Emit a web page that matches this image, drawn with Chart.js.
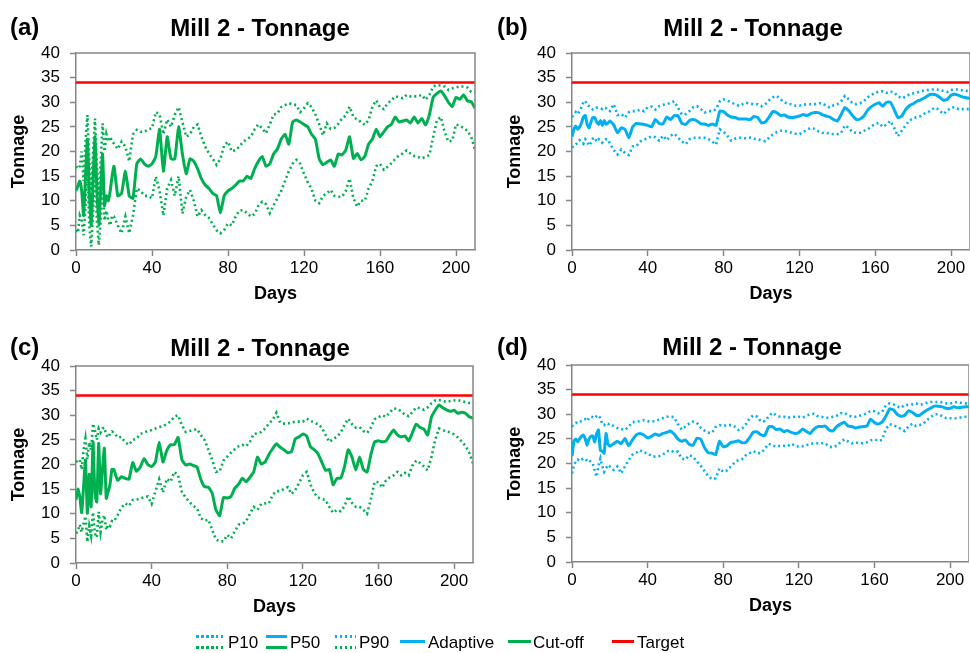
<!DOCTYPE html>
<html><head><meta charset="utf-8">
<script src="https://cdn.jsdelivr.net/npm/chart.js@4.4.1/dist/chart.umd.min.js"></script>
<style>
html,body{margin:0;padding:0;background:#fff;}
body{width:970px;height:653px;position:relative;overflow:hidden;font-family:"Liberation Sans",Arial,sans-serif;color:#000;}
canvas{position:absolute;}
.lbl{position:absolute;font-weight:bold;font-size:24px;line-height:1;transform:translate(0,-50%);white-space:nowrap;}
.ttl{position:absolute;font-weight:bold;font-size:24px;line-height:1;transform:translate(-50%,-50%);white-space:nowrap;}
.lt{position:absolute;font-size:17px;line-height:1;transform:translate(0,-50%);white-space:nowrap;}
.sw{position:absolute;height:3px;}
</style></head>
<body>
<canvas id="ca" width="485" height="320" style="left:0;top:0"></canvas>
<canvas id="cb" width="474" height="320" style="left:496px;top:0"></canvas>
<canvas id="cc" width="485" height="320" style="left:0;top:313px"></canvas>
<canvas id="cd" width="473" height="320" style="left:496px;top:312px"></canvas>

<div class="lbl" style="left:10px;top:27px">(a)</div>
<div class="lbl" style="left:497px;top:27px">(b)</div>
<div class="lbl" style="left:10px;top:347px">(c)</div>
<div class="lbl" style="left:497px;top:347px">(d)</div>
<div class="ttl" style="left:260px;top:28px">Mill 2 - Tonnage</div>
<div class="ttl" style="left:753px;top:28px">Mill 2 - Tonnage</div>
<div class="ttl" style="left:260px;top:348px">Mill 2 - Tonnage</div>
<div class="ttl" style="left:752px;top:347px">Mill 2 - Tonnage</div>

<div class="sw" style="left:196px;top:634.5px;width:29px;background:repeating-linear-gradient(90deg,#00B0F0 0 2.5px,transparent 2.5px 5px)"></div>
<div class="sw" style="left:196px;top:645.5px;width:29px;background:repeating-linear-gradient(90deg,#00B050 0 2.5px,transparent 2.5px 5px)"></div>
<div class="lt" style="left:228px;top:641.5px">P10</div>
<div class="sw" style="left:266px;top:634.5px;width:21px;background:#00B0F0"></div>
<div class="sw" style="left:266px;top:645.5px;width:21px;background:#00B050"></div>
<div class="lt" style="left:290px;top:641.5px">P50</div>
<div class="sw" style="left:335px;top:634.5px;width:21px;background:repeating-linear-gradient(90deg,#00B0F0 0 2.5px,transparent 2.5px 5px)"></div>
<div class="sw" style="left:335px;top:645.5px;width:21px;background:repeating-linear-gradient(90deg,#00B050 0 2.5px,transparent 2.5px 5px)"></div>
<div class="lt" style="left:359px;top:641.5px">P90</div>
<div class="sw" style="left:400px;top:639.5px;width:25px;background:#00B0F0"></div>
<div class="lt" style="left:428px;top:641.5px">Adaptive</div>
<div class="sw" style="left:508px;top:639.5px;width:23px;background:#00B050"></div>
<div class="lt" style="left:533px;top:641.5px">Cut-off</div>
<div class="sw" style="left:612px;top:639.5px;width:22px;background:#FF0000"></div>
<div class="lt" style="left:637px;top:641.5px">Target</div>

<script>
// ---- data ----
const days = [0,1,2,3,4,5,6,7,8,9,10,11,12,13,14,15,16,17,18,19,20,
 22,24,26,28,30,32,34,36,38,40,42,44,46,48,50,52,54,56,58,60,62,64,66,68,70,72,74,76,78,80,
 82,84,86,88,90,92,94,96,98,100,102,104,106,108,110,112,114,116,118,120,122,124,126,128,130,
 132,134,136,138,140,142,144,146,148,150,152,154,156,158,160,162,164,166,168,170,172,174,176,
 178,180,182,184,186,188,190,192,194,196,198,200,202,204,206,208,210];
const targetDays = [0, 210];
const targetValues = [34, 34];
const xTicks = [0, 40, 80, 120, 160, 200];
const yTicks = [0, 5, 10, 15, 20, 25, 30, 35, 40];

// (a) Cut-off
const aP50 = [12,13,14,12,7,15,22.5,12,5,14,23,12,5,12,19.5,9,11,10,12,15,17,
 11,11.5,16,11,10.5,17.5,18.5,17.5,17,17.5,19,24.5,16,23,18.5,18.5,25,19.5,15.5,18.5,18,16.5,14.5,13.2,12.5,11.5,11,7.5,11,12,12.5,13.2,14,14,15,14.5,16.5,18,19,17,17.5,19.5,
 20.5,22.5,23.5,21.5,26,26.4,26,25.5,25,23.5,22.5,18.5,17.3,17.8,18.3,17,19.5,19.3,20.3,23,18.6,19.6,18.3,19,21.5,22.5,24.5,23,24,25,25.5,27,26,26.2,26.4,25.8,27,25.8,26.7,25.4,27.5,31,31.8,32.3,31.3,30,29.1,31,30.6,31.5,30.3,30.1,28.8];
const aP90 = [17,16.5,17,20,14,22,27.4,18,12,20,26.7,17,11,18,25.7,20,23.5,22,23,22,21.6,
 20.5,22,21,18,23.5,24.4,24,24,24.5,24.7,28,27.5,23.5,26.5,25,27.5,29,26,23,23.5,25,25.5,23,21,19.6,18.5,17.3,18.5,21.3,22,20,20.3,21,22,22.5,23,24.5,25.5,24.7,23.7,25.5,27.5,
 27.7,29,29.4,29.8,29.6,29.4,28,28.8,29.8,29,27.5,25.5,23.3,25.7,24.6,24.8,25.6,26.7,27.3,29.1,27,26.5,26,25.4,26.4,29.1,30.4,29,28.6,29.8,30.4,31.2,31,30.8,31.5,31.2,31.2,31.2,31.5,30.5,31.5,33.2,33.5,33.4,33.2,32.5,32.8,33,33.2,33.2,33,32.1,32];
const aP10 = [4,3.5,7,6,3,9,16,5,0.7,8,17,6,1,6,15,6,8,6,5,7,6.8,
 5,3.4,6.8,3.4,7,12.5,12,11,11,10.5,14.9,12,7,12.5,14.2,11,15,7.4,10.8,12.2,10,6.8,8.1,7.1,6.5,5.2,4,3.4,4.1,5.4,5,6.8,8,8.1,7.5,6.8,7.3,9,9.8,9.3,7.5,9.1,
 10.5,12,14,16,17.5,18.3,17.5,15.5,13.7,12.4,10,9.5,11,11.5,12.2,11,10.8,10.8,12,14.5,10.5,8.8,10,10,12.5,14,17,17.5,16.3,16.9,17.6,18.5,19.2,19.6,20.2,19.6,19.1,18.9,18.6,18.9,19.3,23,26.4,27,24,22,22.2,25.5,25.2,24.8,24.2,23,20.3];

// (b) Adaptive
const bP50 = [23,24.5,25.2,24.5,25,25.8,27,27.3,25.5,24.8,26,26.9,26.9,26,25.5,26.3,25.3,26.3,25.5,25.8,26.2,
 25.4,23.8,24.8,24.5,22.8,25,25.7,25.6,25.5,25.3,25,26.5,25.7,25.6,27,26.5,27.3,27.2,25.7,25.5,26.3,26.5,26.2,25.6,25.6,25.3,25.6,25.3,28.2,28.1,27.4,27,26.9,26.6,26.6,26.6,26.5,27.1,26.9,25.8,26,27,
 28.1,27.9,27.3,27.4,27,26.9,27,27.2,27.5,27.3,27.7,27.9,27.9,27.5,27.2,27,26.5,26.2,27.5,28.9,28.3,27.3,26.5,26.6,27.2,28.4,29.1,29.6,29.9,29.2,30,30,28.5,26.9,27.2,28.5,29.3,29.7,30.2,30.5,30.9,31.4,31.6,31.5,31,30.4,30.6,31.4,31.6,31.4,31.1,30.9,30.8];
const bP90 = [27,27.5,28,27.6,28.2,29,30,30.3,29.5,29.2,28.8,28.5,28.6,28.9,28.9,28.8,28.6,28.9,28.8,28.4,28.2,
 29.6,27.4,27.6,26.9,28,28.2,28.2,28.5,28.2,29,29.1,28.5,29.2,29.5,29.6,29.9,30.2,28.8,27.5,27.6,28.2,29,29.2,28.6,27.9,28.2,28.2,28.6,30.2,30.6,30.3,30,29.6,29.3,29.6,29.9,29.7,29.6,29.6,29.2,29.6,30.4,
 31,31.3,30.6,30,29.7,29.6,29.3,29.3,29.5,29.6,29.6,29.6,29.8,29.8,29.3,28.9,29.4,29.6,30.2,31.3,30.6,29.8,29.6,29.8,30.2,31,31.5,31.9,32.2,32.2,31.9,32.2,32,31.2,30.8,31.1,31.6,31.8,32,32.2,32.4,32.5,32.6,32.6,32.5,32.3,32.1,32.5,32.6,32.6,32.4,32.3,32.3];
const bP10 = [20.8,21.2,21.4,21.8,22.3,22,21.6,22.5,22,21.2,21.8,22.6,22.8,22,22.5,22.3,21.8,22.3,22.5,22.4,21.6,
 20.3,19.4,20.4,19.7,19.3,21,21.1,22,22.4,22.7,23.1,22.9,22.2,23.2,22.3,23.2,23.6,22.8,22,21.5,22.5,22.8,22.8,22.8,22.8,22.5,22,21.4,24.5,24,23.2,22.2,22.6,22.8,22.8,22.6,22.8,22.6,22.5,22.2,22.1,22.8,
 23.5,23.9,24.2,24.2,24,23.8,23.6,23.5,24,24.4,24.8,24.6,24.1,23.8,23.8,23.6,23.5,23.5,23.8,25.3,24.8,23.9,23.8,23.8,24.2,24.5,25.1,25.6,25.8,25,25.5,26.2,24.8,23.1,24.2,25.3,26.3,26.7,27,27.2,27.7,28,28.6,28.9,28.3,27.6,28.3,28.9,29,28.6,28.6,28.6,28.6];

// (c) Cut-off
const cP50 = [12.8,15,13.5,10.2,15.5,20.9,10.1,18,11.4,24.6,14,12.4,24.3,14.1,19,23.3,13.1,14.5,16,19,19,
 16.8,17.5,17.2,17,20.4,18.6,19.5,21.2,20,19.6,20.5,24.5,20.5,22.8,24,24,25.5,21,19.9,20.1,19.8,19.5,17,15.5,15.4,14.2,10.8,9.6,13.3,13.2,13.5,15.2,16,17.2,16.5,17.4,18.5,21.5,20.1,20.5,22,23.2,
 24.2,23.5,23,22.4,22.6,25.2,25.6,26.2,25.8,23.6,23,22.2,20.5,18.8,19,15.9,17.2,17.2,19.5,23,21.5,18.9,21.5,19,18.5,22,24.6,24.8,24.6,24.8,26,27,26,25.6,25.8,24.8,26.5,28.2,27.5,27.2,26,29.6,31,32.1,31.5,31.1,30.8,31,30.4,30.6,30.4,29.7,29.4];
const cP90 = [20.5,20.8,21,19,23,25.3,21,24.5,23,28.3,27,25,27.3,26.5,27.3,27.5,26,25.5,26.2,26.7,26.5,
 25.5,25.6,24.5,24,25,25.2,26.2,26.5,26.8,27,27.3,27.6,27.8,28.2,28.7,29.7,30,28,26.6,26.8,27,27.2,26,25,23,21,18.5,18.6,20.8,21.6,22.4,23.1,23.7,24,23.7,24.6,26.2,26.3,26.6,27.3,28.3,29,
 30.5,28.5,28.3,28.3,28.5,28.7,28.7,28.7,29.3,28.9,28.5,28.2,27.5,26,24.6,25.2,25.6,26.5,28,29.3,28.2,27.5,27.6,26.8,26.4,27.5,29.2,29.6,30,29.7,30.6,31.4,31.3,30.8,30.1,29.8,30.7,31.6,31.4,31.1,31.6,32.4,33,33.1,32.9,32.7,32.9,33,33.1,32.9,32.7,32.5,32.4];
const cP10 = [6,6.5,7.8,6.3,8,9.5,4.3,7.5,5.5,10.3,6,5.2,10.4,6.3,8.7,9.7,6.7,7.8,7.5,8.5,8.4,
 9.7,11.2,12.1,11.6,12.8,12.9,13,13.4,13.5,12,14.5,17,14.3,17.1,16.5,18.5,17.8,14.4,13.3,12.4,11.6,11.1,9.1,8.6,8.8,6.8,4.8,4.4,4.4,5.7,5,6.4,7.8,7.9,8.5,10,11.4,10.8,12,12.1,12.1,13.8,
 14.6,14.6,15,15.4,14,14.8,16.3,17.8,18.5,16,14.2,13.3,13,12.8,11.4,10.2,10.8,10.5,11.5,13.5,12.2,11.4,11.4,10.8,10,13,16.5,16.4,15.3,16.8,17.4,17.8,18.5,17.8,18.3,17.8,19.8,20.8,20.3,19.6,18.8,21.5,25,27.3,27,26.7,26.5,26.1,25.5,24.7,23.8,22.4,20.2];

// (d) Adaptive
const dP50 = [21.5,24.5,25,24.4,25,25.5,25.8,25,23.7,25,25.5,25.6,24.4,26,26.8,22.7,22.5,22.1,26.1,24,23.5,
 24,24.5,24,25.1,23.6,24.8,25.8,26.1,25.8,25.2,25.5,26,25.7,26.1,26.3,26.6,26,25,24.5,24.8,23.9,23.7,25.1,25,23.3,22.2,22.1,21.8,24.5,23.4,23.6,24.3,24.4,24.6,24.2,24.3,25.3,26.4,26.4,25.8,25.7,27.4,
 27.5,26.9,27,26.5,26.7,26.3,26.1,26.3,27,26.5,26.1,27,27.5,27.5,27.6,26.8,26.6,27.5,28,28.4,27.6,27.5,27.2,27.4,27.5,27.6,29,28.3,28,28.4,29.6,31.1,30.9,30,29.6,29.8,30.7,30.4,29.8,29.8,30.4,30.9,31.3,31.7,31.6,31.5,31.2,31.2,31.5,31.3,31.4,31.5,31.5];
const dP90 = [27.5,28,28.2,28.5,28.4,28.6,28.8,29,28.6,29.2,29.5,29.4,29.2,29.6,29.8,29.2,28,27.8,28.2,28,28.1,
 27.6,27.2,27,26.8,27.5,28.4,28.5,28.6,28.8,28.6,28.5,28.6,28.9,29.2,29.5,29.5,29.4,28,26.9,27.5,28.1,28.5,28.3,27.3,26.7,26.3,26.2,27.4,27.8,27.6,27.8,27.8,27.5,26.8,27.1,28,29.2,29.8,29.5,28.5,28.6,29.5,
 30.3,29.8,29.5,29.5,29.3,29.4,29.5,29.5,29.3,29.7,30,30.1,29.6,29.5,29.3,29.3,29.5,29.7,30.2,30.3,29.8,29.5,29.5,29.7,29.9,30.2,30.7,30.6,30.2,30.5,31.8,32.2,32,31.6,31.3,31.9,31.9,32,32.2,31.9,32.1,32.4,32.5,32.5,32.5,32.4,32.2,32.2,32.4,32.5,32.3,32.2,32.2];
const dP10 = [18,19.5,20.5,20.8,20.5,20.8,21,21,20.5,20.7,20.3,20,18.5,17.3,19.5,21,19.4,18.3,19,19.7,19.4,
 18.7,19.4,18,19.4,20.7,21.8,22.2,22.7,22.2,22.1,21.5,21.4,21.5,21.8,22.4,22.7,22.3,22.4,21,20.8,21.7,21.4,20.4,19.6,18.5,17.5,16.8,17,19,18.3,18.6,19.4,20.2,20.7,20.9,21.7,22.1,22.5,22.1,22.1,23,24,
 23.7,23.4,23.6,23.6,23.5,24,23.6,23.4,23.5,23.7,24,24.1,24.1,24.1,24.1,23.4,23.3,23.6,24.3,24.9,24.5,24.1,24.3,24.1,24.1,24.3,24.7,24.9,24.6,24.8,27,28,27.8,27.4,27,26.6,27.5,28.1,27.6,27.8,28.1,28.9,29.5,30,30,29.6,29.2,29.2,29.2,29.2,29.4,29.5,29.5];

// ---- styling ----
const FONT = '"Liberation Sans", Arial, sans-serif';
const AX = '#868686';
const GREEN = '#00B050', BLUE = '#00B0F0', RED = '#FF0000';
Chart.defaults.font.family = FONT;
Chart.defaults.color = '#000';

const boxPlugin = {
  id: 'box',
  afterDraw(c) {
    const a = c.chartArea, ctx = c.ctx;
    ctx.save();
    ctx.strokeStyle = AX; ctx.lineWidth = 1.5;
    ctx.beginPath();
    ctx.moveTo(a.left, a.top); ctx.lineTo(a.right, a.top); ctx.lineTo(a.right, a.bottom);
    ctx.stroke();
    ctx.restore();
  }
};

function pts(xs, ys) { return xs.map((d, i) => ({x: d, y: ys[i]})); }

function panel(id, p10, p50, p90, color, padRight) {
  const dotted = {borderDash: [2, 3], borderWidth: 2.6, borderCapStyle: 'butt', tension: 0, pointRadius: 0, fill: false};
  new Chart(document.getElementById(id), {
    type: 'line',
    data: {
      datasets: [
        Object.assign({label: 'P10', data: pts(days, p10), borderColor: color}, dotted),
        Object.assign({label: 'P90', data: pts(days, p90), borderColor: color}, dotted),
        {label: 'P50', data: pts(days, p50), borderColor: color, borderWidth: 3, tension: 0.15, pointRadius: 0, fill: false},
        {label: 'Target', data: pts(targetDays, targetValues), borderColor: RED, borderWidth: 2.5, pointRadius: 0, fill: false}
      ]
    },
    options: {
      responsive: false, animation: false,
      layout: {padding: {top: 53, right: padRight, left: 0, bottom: 0}},
      plugins: {legend: {display: false}, tooltip: {enabled: false}, title: {display: false}},
      scales: {
        x: {
          type: 'linear', min: 0, max: 210,
          afterBuildTicks: s => { s.ticks = xTicks.map(v => ({value: v})); },
          ticks: {stepSize: 40, includeBounds: false, maxRotation: 0, autoSkip: false, padding: 2, color: '#000', font: {size: 17}},
          grid: {drawOnChartArea: false, drawTicks: true, tickLength: 6, tickColor: AX, tickWidth: 1.5},
          border: {display: true, color: AX, width: 1.5},
          title: {display: true, text: 'Days', color: '#000', font: {size: 18, weight: 'bold'}, padding: {top: 0, bottom: 15}},
          afterFit: s => { s.height = 70; }
        },
        y: {
          type: 'linear', min: 0, max: 40,
          afterBuildTicks: s => { s.ticks = yTicks.map(v => ({value: v})); },
          ticks: {stepSize: 5, autoSkip: false, padding: 10, color: '#000', font: {size: 17}},
          grid: {drawOnChartArea: false, drawTicks: true, tickLength: 6, tickColor: AX, tickWidth: 1.5},
          border: {display: true, color: AX, width: 1.5},
          title: {display: true, text: 'Tonnage', color: '#000', font: {size: 18, weight: 'bold'}, padding: {top: 8, bottom: 0}},
          afterFit: s => { s.width = 76; }
        }
      }
    },
    plugins: [boxPlugin]
  });
}

panel('ca', aP10, aP50, aP90, GREEN, 10);
panel('cb', bP10, bP50, bP90, BLUE, 0);
panel('cc', cP10, cP50, cP90, GREEN, 12);
panel('cd', dP10, dP50, dP90, BLUE, 0);
</script>
</body></html>
